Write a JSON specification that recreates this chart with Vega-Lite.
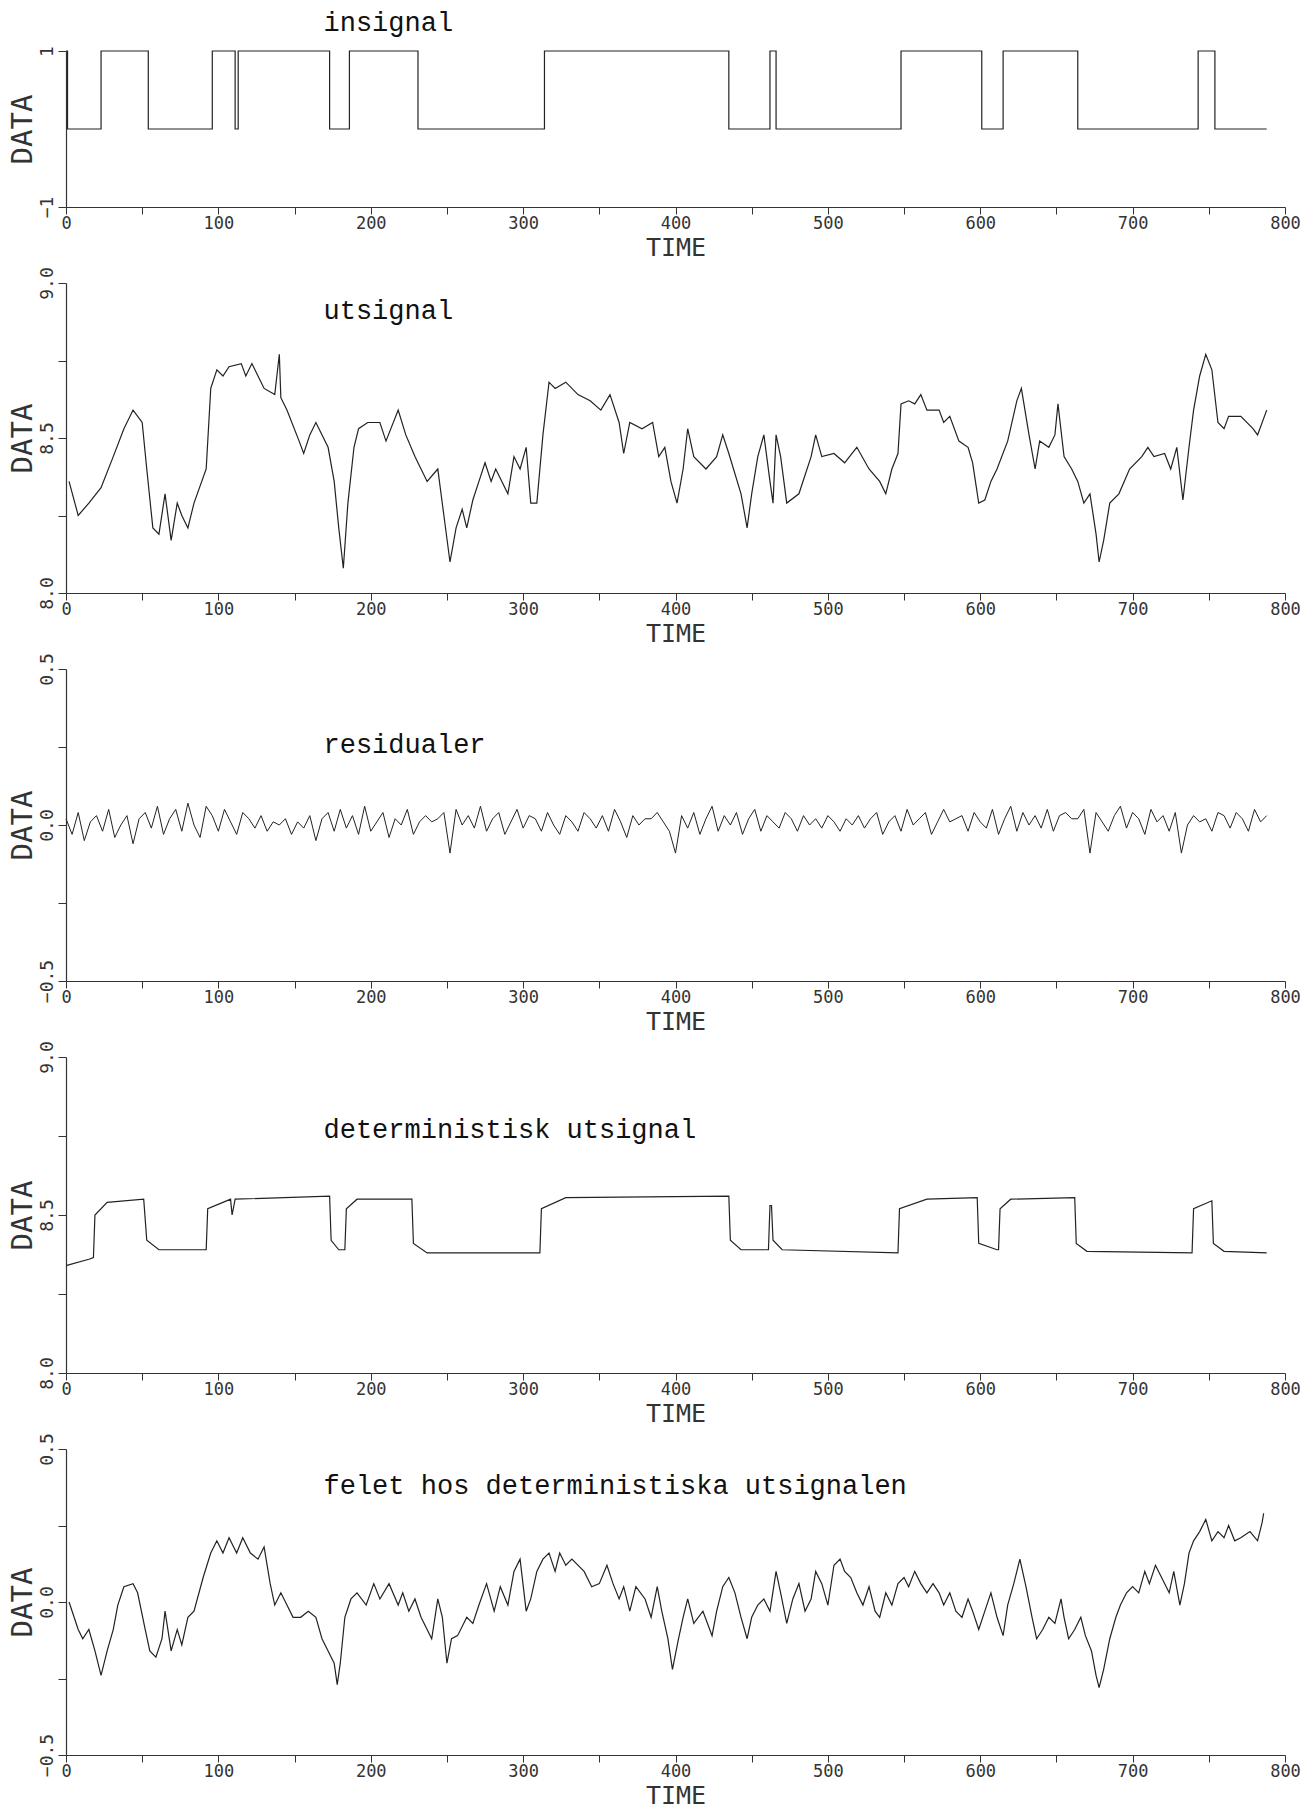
{
"$schema":"https://vega.github.io/schema/vega-lite/v6.json",
"background":"white",
"padding":{"left":8,"top":8,"right":10,"bottom":1},
"spacing":76,
"bounds":"flush",
"config":{"view":{"stroke":null},"axis":{"domainColor":"#333","tickColor":"#333","labelColor":"#333","titleColor":"#333","labelFont":"DejaVu Sans Mono","titleFont":"DejaVu Sans Mono","labelFontSize":18,"titleFontSize":29,"titleFontWeight":"normal","tickSize":8,"grid":false,"labelFlush":false,"labelOverlap":false,"labelPadding":2,"titlePadding":1,"domainWidth":1.2},"axisX":{"titleFontSize":25,"titlePadding":4,"labelPadding":1,"labelFontSize":17,"tickSize":7}},
"datasets":{
"ins":[{"t":0,"v":1},{"t":1,"v":0},{"t":23,"v":1},{"t":54,"v":0},{"t":96,"v":1},{"t":111,"v":0},{"t":113,"v":1},{"t":173,"v":0},{"t":186,"v":1},{"t":231,"v":0},{"t":314,"v":1},{"t":435,"v":0},{"t":462,"v":1},{"t":466,"v":0},{"t":548,"v":1},{"t":601,"v":0},{"t":615,"v":1},{"t":664,"v":0},{"t":743,"v":1},{"t":754,"v":0},{"t":788,"v":0}],
"uts":[{"t":2,"v":8.36},{"t":8,"v":8.25},{"t":15,"v":8.29},{"t":23,"v":8.34},{"t":31,"v":8.44},{"t":38,"v":8.53},{"t":44,"v":8.59},{"t":50,"v":8.55},{"t":53,"v":8.40},{"t":57,"v":8.21},{"t":61,"v":8.19},{"t":65,"v":8.32},{"t":69,"v":8.17},{"t":73,"v":8.29},{"t":76,"v":8.25},{"t":80,"v":8.21},{"t":84,"v":8.29},{"t":92,"v":8.40},{"t":95,"v":8.66},{"t":99,"v":8.72},{"t":103,"v":8.70},{"t":107,"v":8.73},{"t":115,"v":8.74},{"t":118,"v":8.70},{"t":122,"v":8.74},{"t":130,"v":8.66},{"t":137,"v":8.64},{"t":140,"v":8.77},{"t":141,"v":8.63},{"t":145,"v":8.59},{"t":153,"v":8.49},{"t":156,"v":8.45},{"t":160,"v":8.51},{"t":164,"v":8.55},{"t":172,"v":8.47},{"t":176,"v":8.36},{"t":179,"v":8.21},{"t":182,"v":8.08},{"t":185,"v":8.29},{"t":189,"v":8.47},{"t":192,"v":8.53},{"t":198,"v":8.55},{"t":206,"v":8.55},{"t":210,"v":8.49},{"t":218,"v":8.59},{"t":223,"v":8.51},{"t":229,"v":8.44},{"t":237,"v":8.36},{"t":244,"v":8.40},{"t":248,"v":8.25},{"t":252,"v":8.10},{"t":256,"v":8.21},{"t":260,"v":8.27},{"t":263,"v":8.21},{"t":267,"v":8.30},{"t":271,"v":8.36},{"t":275,"v":8.42},{"t":279,"v":8.36},{"t":282,"v":8.40},{"t":290,"v":8.32},{"t":294,"v":8.44},{"t":298,"v":8.40},{"t":302,"v":8.47},{"t":305,"v":8.29},{"t":309,"v":8.29},{"t":313,"v":8.51},{"t":317,"v":8.68},{"t":321,"v":8.66},{"t":328,"v":8.68},{"t":336,"v":8.64},{"t":344,"v":8.62},{"t":351,"v":8.59},{"t":357,"v":8.64},{"t":363,"v":8.55},{"t":366,"v":8.45},{"t":370,"v":8.55},{"t":378,"v":8.53},{"t":385,"v":8.55},{"t":389,"v":8.44},{"t":393,"v":8.47},{"t":397,"v":8.36},{"t":401,"v":8.29},{"t":405,"v":8.40},{"t":408,"v":8.53},{"t":412,"v":8.44},{"t":420,"v":8.40},{"t":427,"v":8.44},{"t":431,"v":8.51},{"t":435,"v":8.45},{"t":443,"v":8.32},{"t":447,"v":8.21},{"t":450,"v":8.32},{"t":454,"v":8.44},{"t":458,"v":8.51},{"t":462,"v":8.36},{"t":464,"v":8.29},{"t":466,"v":8.51},{"t":469,"v":8.44},{"t":473,"v":8.29},{"t":481,"v":8.32},{"t":489,"v":8.44},{"t":492,"v":8.51},{"t":496,"v":8.44},{"t":504,"v":8.45},{"t":511,"v":8.42},{"t":519,"v":8.47},{"t":527,"v":8.40},{"t":534,"v":8.36},{"t":538,"v":8.32},{"t":542,"v":8.40},{"t":546,"v":8.45},{"t":548,"v":8.61},{"t":553,"v":8.62},{"t":557,"v":8.61},{"t":561,"v":8.64},{"t":565,"v":8.59},{"t":573,"v":8.59},{"t":576,"v":8.55},{"t":580,"v":8.57},{"t":586,"v":8.49},{"t":592,"v":8.47},{"t":595,"v":8.42},{"t":599,"v":8.29},{"t":603,"v":8.30},{"t":607,"v":8.36},{"t":611,"v":8.40},{"t":618,"v":8.49},{"t":624,"v":8.62},{"t":627,"v":8.66},{"t":632,"v":8.51},{"t":636,"v":8.40},{"t":639,"v":8.49},{"t":645,"v":8.47},{"t":649,"v":8.51},{"t":651,"v":8.61},{"t":655,"v":8.44},{"t":660,"v":8.40},{"t":664,"v":8.36},{"t":668,"v":8.29},{"t":672,"v":8.32},{"t":676,"v":8.19},{"t":678,"v":8.10},{"t":681,"v":8.17},{"t":685,"v":8.29},{"t":691,"v":8.32},{"t":698,"v":8.40},{"t":706,"v":8.44},{"t":710,"v":8.47},{"t":714,"v":8.44},{"t":721,"v":8.45},{"t":725,"v":8.40},{"t":729,"v":8.47},{"t":733,"v":8.30},{"t":737,"v":8.47},{"t":740,"v":8.59},{"t":744,"v":8.70},{"t":748,"v":8.77},{"t":752,"v":8.72},{"t":756,"v":8.55},{"t":760,"v":8.53},{"t":763,"v":8.57},{"t":771,"v":8.57},{"t":779,"v":8.53},{"t":782,"v":8.51},{"t":788,"v":8.59}],
"res":[{"t":0,"v":0.02},{"t":4,"v":-0.03},{"t":8,"v":0.04},{"t":12,"v":-0.05},{"t":16,"v":0.01},{"t":20,"v":0.03},{"t":24,"v":-0.02},{"t":28,"v":0.05},{"t":32,"v":-0.04},{"t":36,"v":0.0},
{"t":40,"v":0.03},{"t":44,"v":-0.06},{"t":48,"v":0.02},{"t":52,"v":0.04},{"t":56,"v":-0.01},{"t":60,"v":0.06},{"t":64,"v":-0.03},{"t":68,"v":0.02},{"t":72,"v":0.05},{"t":76,"v":-0.02},
{"t":80,"v":0.07},{"t":84,"v":0.0},{"t":88,"v":-0.04},{"t":92,"v":0.06},{"t":96,"v":0.03},{"t":100,"v":-0.02},{"t":104,"v":0.05},{"t":108,"v":0.01},{"t":112,"v":-0.03},{"t":116,"v":0.04},
{"t":120,"v":0.02},{"t":124,"v":-0.01},{"t":128,"v":0.03},{"t":132,"v":-0.02},{"t":136,"v":0.01},{"t":140,"v":0.0},{"t":144,"v":0.02},{"t":148,"v":-0.03},{"t":152,"v":0.01},{"t":156,"v":-0.01},
{"t":160,"v":0.03},{"t":164,"v":-0.05},{"t":168,"v":0.02},{"t":172,"v":0.04},{"t":176,"v":-0.02},{"t":180,"v":0.05},{"t":184,"v":-0.01},{"t":188,"v":0.03},{"t":192,"v":-0.03},{"t":196,"v":0.06},
{"t":200,"v":-0.02},{"t":204,"v":0.01},{"t":208,"v":0.04},{"t":212,"v":-0.04},{"t":216,"v":0.02},{"t":220,"v":0.0},{"t":224,"v":0.05},{"t":228,"v":-0.03},{"t":232,"v":0.01},{"t":236,"v":0.03},
{"t":240,"v":0.01},{"t":244,"v":0.02},{"t":248,"v":0.04},{"t":252,"v":-0.09},{"t":256,"v":0.05},{"t":260,"v":0.0},{"t":264,"v":0.03},{"t":268,"v":-0.01},{"t":272,"v":0.06},{"t":276,"v":-0.02},
{"t":280,"v":0.02},{"t":284,"v":0.04},{"t":288,"v":-0.03},{"t":292,"v":0.01},{"t":296,"v":0.05},{"t":300,"v":-0.01},{"t":304,"v":0.03},{"t":308,"v":0.02},{"t":312,"v":-0.02},{"t":316,"v":0.04},
{"t":320,"v":0.0},{"t":324,"v":-0.03},{"t":328,"v":0.03},{"t":332,"v":0.01},{"t":336,"v":-0.02},{"t":340,"v":0.04},{"t":344,"v":0.02},{"t":348,"v":-0.01},{"t":352,"v":0.03},{"t":356,"v":-0.02},
{"t":360,"v":0.05},{"t":364,"v":0.01},{"t":368,"v":-0.04},{"t":372,"v":0.03},{"t":376,"v":0.0},{"t":380,"v":0.02},{"t":384,"v":0.02},{"t":388,"v":0.04},{"t":392,"v":0.01},{"t":396,"v":-0.02},
{"t":400,"v":-0.09},{"t":404,"v":0.03},{"t":408,"v":-0.01},{"t":412,"v":0.04},{"t":416,"v":-0.03},{"t":420,"v":0.02},{"t":424,"v":0.06},{"t":428,"v":-0.02},{"t":432,"v":0.03},{"t":436,"v":0.0},
{"t":440,"v":0.04},{"t":444,"v":-0.03},{"t":448,"v":0.02},{"t":452,"v":0.05},{"t":456,"v":-0.02},{"t":460,"v":0.03},{"t":464,"v":0.01},{"t":468,"v":-0.01},{"t":472,"v":0.04},{"t":476,"v":0.02},
{"t":480,"v":-0.02},{"t":484,"v":0.03},{"t":488,"v":0.0},{"t":492,"v":0.02},{"t":496,"v":-0.01},{"t":500,"v":0.03},{"t":504,"v":0.01},{"t":508,"v":-0.02},{"t":512,"v":0.02},{"t":516,"v":0.0},
{"t":520,"v":0.03},{"t":524,"v":-0.01},{"t":528,"v":0.02},{"t":532,"v":0.04},{"t":536,"v":-0.03},{"t":540,"v":0.01},{"t":544,"v":0.03},{"t":548,"v":-0.02},{"t":552,"v":0.05},{"t":556,"v":0.0},
{"t":560,"v":0.02},{"t":564,"v":0.04},{"t":568,"v":-0.03},{"t":572,"v":0.01},{"t":576,"v":0.05},{"t":580,"v":0.01},{"t":584,"v":0.02},{"t":588,"v":0.03},{"t":592,"v":-0.02},{"t":596,"v":0.04},
{"t":600,"v":0.01},{"t":604,"v":-0.01},{"t":608,"v":0.05},{"t":612,"v":-0.03},{"t":616,"v":0.02},{"t":620,"v":0.06},{"t":624,"v":-0.02},{"t":628,"v":0.04},{"t":632,"v":0.0},{"t":636,"v":0.03},
{"t":640,"v":-0.01},{"t":644,"v":0.05},{"t":648,"v":-0.02},{"t":652,"v":0.03},{"t":656,"v":0.04},{"t":660,"v":0.02},{"t":664,"v":0.02},{"t":668,"v":0.05},{"t":672,"v":-0.09},{"t":676,"v":0.04},
{"t":680,"v":0.01},{"t":684,"v":-0.02},{"t":688,"v":0.03},{"t":692,"v":0.06},{"t":696,"v":-0.01},{"t":700,"v":0.04},{"t":704,"v":0.02},{"t":708,"v":-0.03},{"t":712,"v":0.05},{"t":716,"v":0.01},
{"t":720,"v":0.03},{"t":724,"v":-0.02},{"t":728,"v":0.04},{"t":732,"v":-0.09},{"t":736,"v":0.0},{"t":740,"v":0.03},{"t":744,"v":0.01},{"t":748,"v":0.02},{"t":752,"v":-0.02},{"t":756,"v":0.04},
{"t":760,"v":0.03},{"t":764,"v":-0.01},{"t":768,"v":0.04},{"t":772,"v":0.02},{"t":776,"v":-0.02},{"t":780,"v":0.05},{"t":784,"v":0.01},{"t":788,"v":0.03}],
"det":[{"t":0,"v":8.34},{"t":15,"v":8.36},{"t":18,"v":8.365},{"t":19,"v":8.50},{"t":27,"v":8.54},{"t":51,"v":8.55},{"t":53,"v":8.42},{"t":61,"v":8.39},{"t":92,"v":8.39},{"t":93,"v":8.52},{"t":103,"v":8.54},{"t":108,"v":8.55},{"t":109,"v":8.50},{"t":111,"v":8.55},{"t":173,"v":8.56},{"t":174,"v":8.42},{"t":179,"v":8.39},{"t":183,"v":8.39},{"t":184,"v":8.52},{"t":191,"v":8.55},{"t":227,"v":8.55},{"t":228,"v":8.41},{"t":237,"v":8.38},{"t":311,"v":8.38},{"t":312,"v":8.52},{"t":328,"v":8.555},{"t":435,"v":8.56},{"t":436,"v":8.42},{"t":443,"v":8.39},{"t":461,"v":8.39},{"t":462,"v":8.53},{"t":463,"v":8.53},{"t":464,"v":8.42},{"t":470,"v":8.39},{"t":546,"v":8.38},{"t":547,"v":8.52},{"t":565,"v":8.55},{"t":598,"v":8.555},{"t":599,"v":8.41},{"t":611,"v":8.39},{"t":612,"v":8.39},{"t":613,"v":8.52},{"t":620,"v":8.55},{"t":662,"v":8.555},{"t":663,"v":8.41},{"t":670,"v":8.385},{"t":739,"v":8.38},{"t":740,"v":8.52},{"t":752,"v":8.545},{"t":753,"v":8.41},{"t":760,"v":8.385},{"t":788,"v":8.38}],
"fel":[{"t":2,"v":0.0},{"t":8,"v":-0.09},{"t":11,"v":-0.12},{"t":15,"v":-0.09},{"t":19,"v":-0.16},{"t":23,"v":-0.24},{"t":27,"v":-0.16},{"t":31,"v":-0.09},{"t":34,"v":-0.01},{"t":38,"v":0.05},{"t":44,"v":0.06},{"t":47,"v":0.03},{"t":52,"v":-0.09},{"t":55,"v":-0.16},{"t":59,"v":-0.18},{"t":63,"v":-0.12},{"t":65,"v":-0.03},{"t":69,"v":-0.16},{"t":73,"v":-0.09},{"t":76,"v":-0.14},{"t":80,"v":-0.05},{"t":84,"v":-0.03},{"t":90,"v":0.08},{"t":95,"v":0.16},{"t":99,"v":0.20},{"t":103,"v":0.16},{"t":107,"v":0.21},{"t":112,"v":0.16},{"t":116,"v":0.21},{"t":121,"v":0.16},{"t":126,"v":0.14},{"t":130,"v":0.18},{"t":134,"v":0.06},{"t":137,"v":-0.01},{"t":141,"v":0.03},{"t":145,"v":-0.01},{"t":149,"v":-0.05},{"t":154,"v":-0.05},{"t":159,"v":-0.03},{"t":164,"v":-0.05},{"t":168,"v":-0.12},{"t":172,"v":-0.16},{"t":176,"v":-0.20},{"t":178,"v":-0.27},{"t":180,"v":-0.20},{"t":183,"v":-0.05},{"t":187,"v":0.01},{"t":191,"v":0.03},{"t":197,"v":-0.01},{"t":202,"v":0.06},{"t":206,"v":0.01},{"t":212,"v":0.06},{"t":218,"v":-0.01},{"t":221,"v":0.03},{"t":225,"v":-0.03},{"t":229,"v":0.01},{"t":233,"v":-0.05},{"t":237,"v":-0.09},{"t":240,"v":-0.12},{"t":244,"v":0.01},{"t":247,"v":-0.05},{"t":250,"v":-0.20},{"t":253,"v":-0.12},{"t":257,"v":-0.11},{"t":263,"v":-0.05},{"t":267,"v":-0.07},{"t":271,"v":-0.01},{"t":276,"v":0.06},{"t":281,"v":-0.03},{"t":285,"v":0.05},{"t":290,"v":-0.01},{"t":294,"v":0.10},{"t":298,"v":0.14},{"t":302,"v":-0.03},{"t":305,"v":0.01},{"t":309,"v":0.10},{"t":313,"v":0.14},{"t":317,"v":0.16},{"t":321,"v":0.10},{"t":324,"v":0.16},{"t":328,"v":0.12},{"t":332,"v":0.14},{"t":340,"v":0.10},{"t":345,"v":0.05},{"t":350,"v":0.06},{"t":355,"v":0.12},{"t":359,"v":0.06},{"t":363,"v":0.01},{"t":366,"v":0.05},{"t":370,"v":-0.03},{"t":374,"v":0.05},{"t":380,"v":0.01},{"t":384,"v":-0.05},{"t":388,"v":0.05},{"t":391,"v":-0.03},{"t":395,"v":-0.12},{"t":398,"v":-0.22},{"t":402,"v":-0.12},{"t":405,"v":-0.05},{"t":408,"v":0.01},{"t":412,"v":-0.07},{"t":418,"v":-0.03},{"t":424,"v":-0.11},{"t":427,"v":-0.03},{"t":431,"v":0.05},{"t":435,"v":0.08},{"t":439,"v":0.03},{"t":443,"v":-0.05},{"t":447,"v":-0.12},{"t":450,"v":-0.05},{"t":454,"v":-0.01},{"t":458,"v":0.01},{"t":462,"v":-0.03},{"t":466,"v":0.10},{"t":469,"v":0.03},{"t":473,"v":-0.07},{"t":477,"v":0.01},{"t":481,"v":0.06},{"t":485,"v":-0.03},{"t":489,"v":0.01},{"t":492,"v":0.10},{"t":496,"v":0.06},{"t":500,"v":-0.01},{"t":504,"v":0.12},{"t":508,"v":0.14},{"t":511,"v":0.10},{"t":515,"v":0.08},{"t":519,"v":0.03},{"t":523,"v":-0.01},{"t":527,"v":0.05},{"t":531,"v":-0.03},{"t":534,"v":-0.05},{"t":538,"v":0.03},{"t":542,"v":-0.01},{"t":546,"v":0.06},{"t":550,"v":0.08},{"t":553,"v":0.05},{"t":557,"v":0.10},{"t":561,"v":0.06},{"t":565,"v":0.03},{"t":569,"v":0.06},{"t":573,"v":0.03},{"t":576,"v":-0.01},{"t":580,"v":0.03},{"t":584,"v":-0.03},{"t":588,"v":-0.05},{"t":592,"v":0.01},{"t":595,"v":-0.03},{"t":599,"v":-0.09},{"t":603,"v":-0.03},{"t":607,"v":0.03},{"t":611,"v":-0.05},{"t":615,"v":-0.11},{"t":618,"v":-0.01},{"t":622,"v":0.06},{"t":626,"v":0.14},{"t":630,"v":0.05},{"t":634,"v":-0.05},{"t":637,"v":-0.12},{"t":641,"v":-0.09},{"t":645,"v":-0.05},{"t":649,"v":-0.07},{"t":653,"v":0.01},{"t":655,"v":-0.05},{"t":658,"v":-0.12},{"t":662,"v":-0.09},{"t":666,"v":-0.05},{"t":669,"v":-0.11},{"t":673,"v":-0.16},{"t":676,"v":-0.24},{"t":678,"v":-0.28},{"t":681,"v":-0.22},{"t":685,"v":-0.12},{"t":689,"v":-0.05},{"t":692,"v":-0.01},{"t":696,"v":0.03},{"t":700,"v":0.05},{"t":704,"v":0.03},{"t":708,"v":0.10},{"t":711,"v":0.06},{"t":715,"v":0.12},{"t":719,"v":0.08},{"t":724,"v":0.03},{"t":727,"v":0.10},{"t":731,"v":-0.01},{"t":734,"v":0.06},{"t":737,"v":0.16},{"t":740,"v":0.20},{"t":744,"v":0.23},{"t":748,"v":0.27},{"t":752,"v":0.20},{"t":756,"v":0.23},{"t":760,"v":0.21},{"t":763,"v":0.25},{"t":767,"v":0.20},{"t":771,"v":0.21},{"t":777,"v":0.23},{"t":782,"v":0.20},{"t":785,"v":0.26},{"t":786,"v":0.29}]
},
"vconcat":[
{"width":1219,"height":156,"layer":[
 {"data":{"name":"ins"},"mark":{"type":"line","interpolate":"step-after","color":"#222","strokeWidth":1.2},
  "encoding":{"x":{"field":"t","type":"quantitative","scale":{"domain":[0,800]},"axis":{"title":"TIME","values":[0,50,100,150,200,250,300,350,400,450,500,550,600,650,700,750,800],"format":"d","labelExpr":"datum.value % 100 === 0 ? datum.label : ''"}},
   "y":{"field":"v","type":"quantitative","scale":{"domain":[-1,1]},"axis":{"title":"DATA","values":[-1,1],"format":"d","labelAngle":-90}}}},
 {"data":{"values":[{}]},"mark":{"type":"text","align":"left","baseline":"middle","font":"Liberation Mono","fontSize":27,"color":"#111"},
  "encoding":{"x":{"datum":169,"type":"quantitative"},"y":{"datum":1.36,"type":"quantitative"},"text":{"value":"insignal"}}}
]},
{"width":1219,"height":310,"layer":[
 {"data":{"name":"uts"},"mark":{"type":"line","color":"#222","strokeWidth":1.2},
  "encoding":{"x":{"field":"t","type":"quantitative","scale":{"domain":[0,800]},"axis":{"title":"TIME","values":[0,50,100,150,200,250,300,350,400,450,500,550,600,650,700,750,800],"format":"d","labelExpr":"datum.value % 100 === 0 ? datum.label : ''"}},
   "y":{"field":"v","type":"quantitative","scale":{"domain":[8,9]},"axis":{"title":"DATA","values":[8,8.25,8.5,8.75,9],"format":".1f","labelAngle":-90,"labelExpr":"(abs(datum.value*4) % 2) === 0 ? datum.label : ''"}}}},
 {"data":{"values":[{}]},"mark":{"type":"text","align":"left","baseline":"middle","font":"Liberation Mono","fontSize":27,"color":"#111"},
  "encoding":{"x":{"datum":169,"type":"quantitative"},"y":{"datum":8.91,"type":"quantitative"},"text":{"value":"utsignal"}}}
]},
{"width":1219,"height":312,"layer":[
 {"data":{"name":"res"},"mark":{"type":"line","color":"#222","strokeWidth":1},
  "encoding":{"x":{"field":"t","type":"quantitative","scale":{"domain":[0,800]},"axis":{"title":"TIME","values":[0,50,100,150,200,250,300,350,400,450,500,550,600,650,700,750,800],"format":"d","labelExpr":"datum.value % 100 === 0 ? datum.label : ''"}},
   "y":{"field":"v","type":"quantitative","scale":{"domain":[-0.5,0.5]},"axis":{"title":"DATA","values":[-0.5,-0.25,0,0.25,0.5],"format":".1f","labelAngle":-90,"labelExpr":"(abs(datum.value*4) % 2) === 0 ? datum.label : ''"}}}},
 {"data":{"values":[{}]},"mark":{"type":"text","align":"left","baseline":"middle","font":"Liberation Mono","fontSize":27,"color":"#111"},
  "encoding":{"x":{"datum":169,"type":"quantitative"},"y":{"datum":0.256,"type":"quantitative"},"text":{"value":"residualer"}}}
]},
{"width":1219,"height":316,"layer":[
 {"data":{"name":"det"},"mark":{"type":"line","color":"#222","strokeWidth":1.2},
  "encoding":{"x":{"field":"t","type":"quantitative","scale":{"domain":[0,800]},"axis":{"title":"TIME","values":[0,50,100,150,200,250,300,350,400,450,500,550,600,650,700,750,800],"format":"d","labelExpr":"datum.value % 100 === 0 ? datum.label : ''"}},
   "y":{"field":"v","type":"quantitative","scale":{"domain":[8,9]},"axis":{"title":"DATA","values":[8,8.25,8.5,8.75,9],"format":".1f","labelAngle":-90,"labelExpr":"(abs(datum.value*4) % 2) === 0 ? datum.label : ''"}}}},
 {"data":{"values":[{}]},"mark":{"type":"text","align":"left","baseline":"middle","font":"Liberation Mono","fontSize":27,"color":"#111"},
  "encoding":{"x":{"datum":169,"type":"quantitative"},"y":{"datum":8.77,"type":"quantitative"},"text":{"value":"deterministisk utsignal"}}}
]},
{"width":1219,"height":306,"layer":[
 {"data":{"name":"fel"},"mark":{"type":"line","color":"#222","strokeWidth":1.2},
  "encoding":{"x":{"field":"t","type":"quantitative","scale":{"domain":[0,800]},"axis":{"title":"TIME","values":[0,50,100,150,200,250,300,350,400,450,500,550,600,650,700,750,800],"format":"d","labelExpr":"datum.value % 100 === 0 ? datum.label : ''"}},
   "y":{"field":"v","type":"quantitative","scale":{"domain":[-0.5,0.5]},"axis":{"title":"DATA","values":[-0.5,-0.25,0,0.25,0.5],"format":".1f","labelAngle":-90,"labelExpr":"(abs(datum.value*4) % 2) === 0 ? datum.label : ''"}}}},
 {"data":{"values":[{}]},"mark":{"type":"text","align":"left","baseline":"middle","font":"Liberation Mono","fontSize":27,"color":"#111"},
  "encoding":{"x":{"datum":169,"type":"quantitative"},"y":{"datum":0.38,"type":"quantitative"},"text":{"value":"felet hos deterministiska utsignalen"}}}
]}
]
}
